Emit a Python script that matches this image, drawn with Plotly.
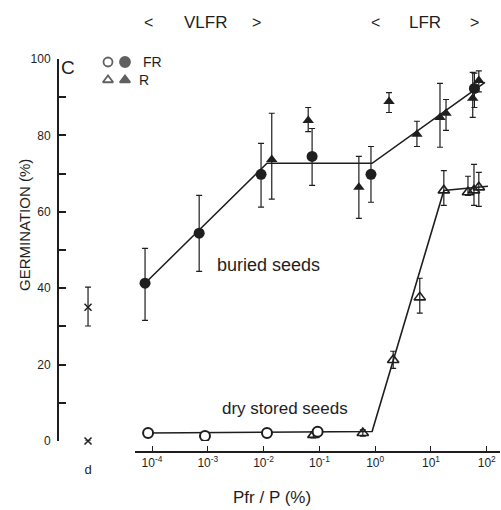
import plotly.graph_objects as go

# ---------------- data ----------------
# buried seeds, FR (filled circles)
bur_fr_x = [7.5e-5, 7.0e-4, 9.0e-3, 0.074, 0.84, 60.0]
bur_fr_y = [41.3, 54.4, 69.8, 74.5, 69.8, 92.3]
bur_fr_up = [9.1, 9.9, 8.1, 7.3, 7.3, 4.0]
bur_fr_dn = [9.7, 10.0, 8.6, 7.6, 7.3, 5.0]

# buried seeds, R (filled triangles)
bur_r_x = [0.014, 0.063, 0.51, 1.77, 5.6, 14.5, 18.6, 56.0, 72.0]
bur_r_y = [73.7, 83.9, 66.4, 88.9, 80.3, 84.7, 85.8, 89.7, 94.4]
bur_r_up = [12.1, 3.4, 8.1, 2.3, 3.4, 8.9, 3.6, 6.8, 2.5]
bur_r_dn = [10.4, 2.9, 8.1, 2.9, 3.2, 7.8, 4.5, 5.0, 3.0]

# dry stored seeds, FR (open circles)
dry_fr_x = [8.5e-5, 8.9e-4, 0.0115, 0.093]
dry_fr_y = [2.1, 1.3, 2.1, 2.4]
dry_fr_err = [1.0, 0.8, 1.0, 1.0]

# dry stored seeds, R (open triangles)
dry_r_x = [0.078, 0.60, 2.1, 6.3, 17.0, 46.0, 59.0, 72.0]
dry_r_y = [1.6, 2.1, 21.2, 37.6, 65.6, 65.1, 65.6, 66.4]
dry_r_up = [0.8, 0.8, 2.3, 5.0, 5.2, 4.2, 6.8, 3.9]
dry_r_dn = [0.8, 0.8, 2.2, 4.1, 3.9, 0.8, 3.9, 5.0]

# fitted lines
bur_line_x = [7.5e-5, 0.0115, 0.88, 93.0]
bur_line_y = [41.3, 72.7, 72.7, 93.9]
dry_line_x = [8.5e-5, 0.88, 17.0, 105.0]
dry_line_y = [2.1, 2.5, 65.6, 66.7]

# dark control (d)
d_pos = [0.39, 0.39]
d_y = [35.0, 0.0]
d_up = [5.3, 0]
d_dn = [4.9, 0]

x_tickvals = [1e-4, 1e-3, 1e-2, 1e-1, 1e0, 1e1, 1e2]
x_ticktext = ["10<sup>-4</sup>", "10<sup>-3</sup>", "10<sup>-2</sup>", "10<sup>-1</sup>",
              "10<sup>0</sup>", "10<sup>1</sup>", "10<sup>2</sup>"]
y_tickvals = [0, 20, 40, 60, 80, 100]

INK = "#1e1e1e"
FONT = "Liberation Sans, Arial, sans-serif"

# ---------------- figure ----------------
W, H = 501, 510
L, R, T, B = 58, 1, 50, 40
PW, PH = W - L - R, H - T - B


def px(x):
    return (x - L) / PW


def py(y):
    return (H - B - y) / PH


fig = go.Figure()

line_style = dict(color=INK, width=1.6)


def err(up, dn):
    return dict(type="data", array=up, arrayminus=dn, color=INK,
                thickness=1.2, width=3, symmetric=False)


fig.add_trace(go.Scatter(x=bur_line_x, y=bur_line_y, mode="lines", line=line_style,
                         xaxis="x2", yaxis="y", hoverinfo="skip"))
fig.add_trace(go.Scatter(x=dry_line_x, y=dry_line_y, mode="lines", line=line_style,
                         xaxis="x2", yaxis="y", hoverinfo="skip"))

fig.add_trace(go.Scatter(x=bur_fr_x, y=bur_fr_y, mode="markers", xaxis="x2", yaxis="y",
                         marker=dict(symbol="circle", size=11, color=INK),
                         error_y=err(bur_fr_up, bur_fr_dn)))
fig.add_trace(go.Scatter(x=bur_r_x, y=bur_r_y, mode="markers", xaxis="x2", yaxis="y",
                         marker=dict(symbol="triangle-up", size=10, color=INK),
                         error_y=err(bur_r_up, bur_r_dn)))
fig.add_trace(go.Scatter(x=dry_r_x, y=dry_r_y, mode="markers", xaxis="x2", yaxis="y",
                         marker=dict(symbol="triangle-up-open", size=10, color=INK,
                                     line=dict(width=1.6, color=INK)),
                         error_y=err(dry_r_up, dry_r_dn)))
fig.add_trace(go.Scatter(x=dry_fr_x, y=dry_fr_y, mode="markers", xaxis="x2", yaxis="y",
                         marker=dict(symbol="circle", size=10, color="white",
                                     line=dict(width=2, color=INK)),
                         error_y=err(dry_fr_err, dry_fr_err)))

fig.add_trace(go.Scatter(x=d_pos, y=d_y, mode="markers", xaxis="x", yaxis="y",
                         cliponaxis=False,
                         marker=dict(symbol="x-thin", size=7, color=INK,
                                     line=dict(width=1.5, color=INK)),
                         error_y=err(d_up, d_dn)))

# legend key drawn on an overlay axis measured in page pixels
key_x = [108, 125, 108, 125]
key_y = [62, 62, 80, 80]
key_sym = ["circle-open", "circle", "triangle-up-open", "triangle-up"]
fig.add_trace(go.Scatter(x=key_x, y=key_y, mode="markers", xaxis="x3", yaxis="y3",
                         cliponaxis=False, hoverinfo="skip",
                         marker=dict(symbol=key_sym, size=[9, 10, 9, 9], color=INK,
                                     line=dict(width=1.8, color=INK))))

x_axis_pos = py(452)

fig.update_layout(
    width=W, height=H,
    margin=dict(l=L, r=R, t=T, b=B),
    paper_bgcolor="white", plot_bgcolor="rgba(0,0,0,0)",
    showlegend=False,
    font=dict(family=FONT, color=INK),
    xaxis=dict(domain=[0, px(135)], range=[0, 1], anchor="free", position=x_axis_pos,
               showline=False, showgrid=False, zeroline=False, ticks="",
               tickvals=[d_pos[0]], ticktext=["d"],
               tickfont=dict(size=13, color=INK, family=FONT), ticklabelstandoff=8),
    xaxis2=dict(type="log", domain=[px(135), 1], range=[-4.305, 2.237], anchor="free",
                position=x_axis_pos, showline=True, linecolor=INK, linewidth=1.6,
                showgrid=False, zeroline=False, ticks="inside", ticklen=5, tickwidth=1.4,
                tickcolor=INK, tickvals=x_tickvals, ticktext=x_ticktext,
                tickfont=dict(size=12, color=INK, family=FONT)),
    yaxis=dict(domain=[py(441), py(59)], range=[0, 100], anchor="free", position=0,
               showline=True, linecolor=INK, linewidth=2, showgrid=False, zeroline=False,
               ticks="inside", ticklen=7, tickwidth=1.6, tickcolor=INK,
               tickvals=y_tickvals, tickfont=dict(size=12, color=INK, family=FONT),
               ticklabelstandoff=4,
               minor=dict(tickvals=[10, 30, 50, 70, 90], ticks="inside", ticklen=7,
                          tickwidth=1.6, tickcolor=INK)),
    xaxis3=dict(domain=[0, 1], range=[L, W - R], visible=False, anchor="y3"),
    yaxis3=dict(domain=[0, 1], range=[H - B, T], visible=False, anchor="x3"),
)

ann = []


def text(x, y, s, size=14, **kw):
    ann.append(dict(x=px(x), y=py(y), xref="paper", yref="paper", text=s, showarrow=False,
                    xanchor="center", yanchor="middle",
                    font=dict(size=size, family=FONT, color=INK), **kw))


text(25, 225, "GERMINATION (%)", 15, textangle=-90)
text(272, 497, "Pfr / P (%)", 17)
text(268, 265, "buried seeds", 18)
text(285, 408, "dry stored seeds", 17)
text(148, 22, "<", 16)
text(205, 22, "VLFR", 17)
text(256, 22, ">", 16)
text(375, 22, "<", 16)
text(425, 22, "LFR", 17)
text(474, 22, ">", 16)
text(68, 68, "C", 19)
text(152, 62, "FR", 14)
text(144, 80, "R", 14)

fig.update_layout(annotations=ann)

fig.write_html("out.html")
